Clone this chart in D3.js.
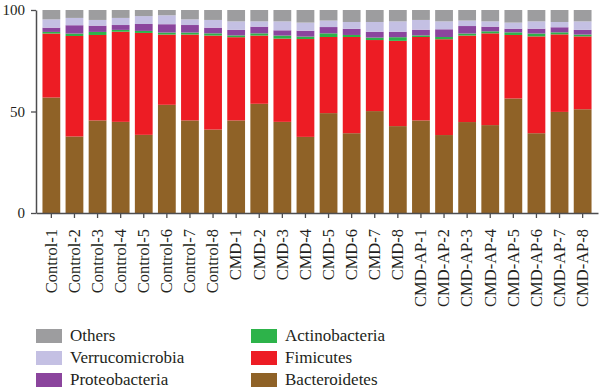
<!DOCTYPE html>
<html>
<head>
<meta charset="utf-8">
<script src="https://cdn.jsdelivr.net/npm/d3@7"></script>
<style>
  html, body { margin: 0; padding: 0; background: #fff; }
  svg { display: block; }
</style>
</head>
<body>
<svg id="chart" width="600" height="391"></svg>
<script>
const samples = ["Control-1","Control-2","Control-3","Control-4","Control-5","Control-6","Control-7","Control-8",
  "CMD-1","CMD-2","CMD-3","CMD-4","CMD-5","CMD-6","CMD-7","CMD-8",
  "CMD-AP-1","CMD-AP-2","CMD-AP-3","CMD-AP-4","CMD-AP-5","CMD-AP-6","CMD-AP-7","CMD-AP-8"];

const seriesNames = ["Bacteroidetes","Fimicutes","Actinobacteria","Proteobacteria","Verrucomicrobia","Others"];

const bacteroidetes   = [56.9,37.7,45.6,44.9,38.5,53.3,45.6,41.1, 45.6,53.8,44.9,37.5,49.2,39.3,50.2,42.8, 45.6,38.4,44.8,43.3,56.4,39.3,49.8,51.1];
const fimicutes       = [31.5,49.5,42.1,44.4,50.2,34.6,42.3,46.3, 41.0,33.6,41.0,48.2,37.5,47.4,35.0,42.0, 41.1,47.2,42.6,45.2,31.3,47.7,38.2,35.9];
const actinobacteria  = [0.8,1.2,1.5,0.9,1.0,1.0,1.0,1.1, 0.9,1.1,1.5,1.2,1.8,1.0,1.2,1.8, 0.8,1.1,1.0,1.0,1.3,1.4,1.0,0.9];
const proteobacteria  = [2.1,4.1,3.1,2.4,3.4,4.1,3.7,2.8, 2.7,3.3,2.6,2.9,3.1,3.0,2.9,2.7, 2.8,3.8,3.7,2.3,1.8,2.4,2.5,2.3];
const verrucomicrobia = [4.1,3.6,2.8,3.5,3.9,4.4,2.8,3.8, 4.2,2.6,4.4,4.0,3.2,3.4,4.8,5.1, 4.8,3.9,2.7,2.6,3.0,3.6,2.6,4.2];
const others          = [4.6,3.9,4.9,3.9,3.0,2.6,4.6,4.9, 5.6,5.6,5.6,6.2,5.2,5.9,5.9,5.6, 4.9,5.6,5.2,5.6,6.2,5.6,5.9,5.6];

const yTicks = [0, 50, 100];

const seriesColors = {
  "Bacteroidetes": "#8f6227",
  "Fimicutes": "#ed1c24",
  "Actinobacteria": "#2db34a",
  "Proteobacteria": "#8b459d",
  "Verrucomicrobia": "#c4c0e3",
  "Others": "#9d9d9f"
};

const FONT = "Liberation Serif, Times New Roman, DejaVu Serif, serif";

const valueArrays = [bacteroidetes, fimicutes, actinobacteria, proteobacteria, verrucomicrobia, others];
const table = samples.map((s, i) => {
  const row = { sample: s };
  seriesNames.forEach((n, k) => row[n] = valueArrays[k][i]);
  return row;
});

const svg = d3.select("#chart");
const axisColor = "#4d4d4f";
const textColor = "#231f20";

const x = d3.scaleBand().domain(samples).range([36, 598]).paddingInner(0.23).paddingOuter(0.28);
const y = d3.scaleLinear().domain([0, 100]).range([213, 10]);

const stacked = d3.stack().keys(seriesNames)(table);

svg.append("g").selectAll("g").data(stacked).join("g")
  .attr("fill", d => seriesColors[d.key])
  .selectAll("rect").data(d => d).join("rect")
  .attr("x", d => x(d.data.sample))
  .attr("width", x.bandwidth())
  .attr("y", d => y(d[1]))
  .attr("height", d => y(d[0]) - y(d[1]));

// Y axis
const yAxis = svg.append("g").attr("transform", "translate(36,0)")
  .call(d3.axisLeft(y).tickValues(yTicks).tickSize(5).tickPadding(6).tickSizeOuter(0))
  .attr("font-family", FONT);
yAxis.select(".domain").attr("stroke", axisColor).attr("stroke-width", 1.5);
yAxis.selectAll(".tick line").attr("stroke", axisColor).attr("stroke-width", 1.3);
yAxis.selectAll("text").attr("font-size", 15).attr("fill", textColor).attr("font-family", FONT);

// X axis
const xAxis = svg.append("g").attr("transform", "translate(0,213)")
  .call(d3.axisBottom(x).tickSize(5).tickSizeOuter(0))
  .attr("font-family", FONT);
xAxis.select(".domain").attr("stroke", axisColor).attr("stroke-width", 1.5);
xAxis.selectAll(".tick line").attr("stroke", axisColor).attr("stroke-width", 1.3);
xAxis.selectAll("text")
  .attr("font-size", 16.5)
  .attr("fill", textColor)
  .attr("font-family", FONT)
  .attr("text-anchor", "end")
  .attr("transform", "rotate(-90)")
  .attr("x", -16)
  .attr("y", 0)
  .attr("dy", "0.32em");

// Legend
const legendLeft = ["Others","Verrucomicrobia","Proteobacteria"];
const legendRight = ["Actinobacteria","Fimicutes","Bacteroidetes"];
const legend = svg.append("g").attr("font-family", FONT);
[[legendLeft, 36], [legendRight, 251]].forEach(([names, lx]) => {
  names.forEach((n, i) => {
    const gy = 329 + i * 22;
    legend.append("rect").attr("x", lx).attr("y", gy).attr("width", 26).attr("height", 14)
      .attr("fill", seriesColors[n]);
    legend.append("text").attr("x", lx + 34).attr("y", gy + 12)
      .attr("font-size", 17).attr("fill", textColor).attr("font-family", FONT).text(n);
  });
});
</script>
</body>
</html>
